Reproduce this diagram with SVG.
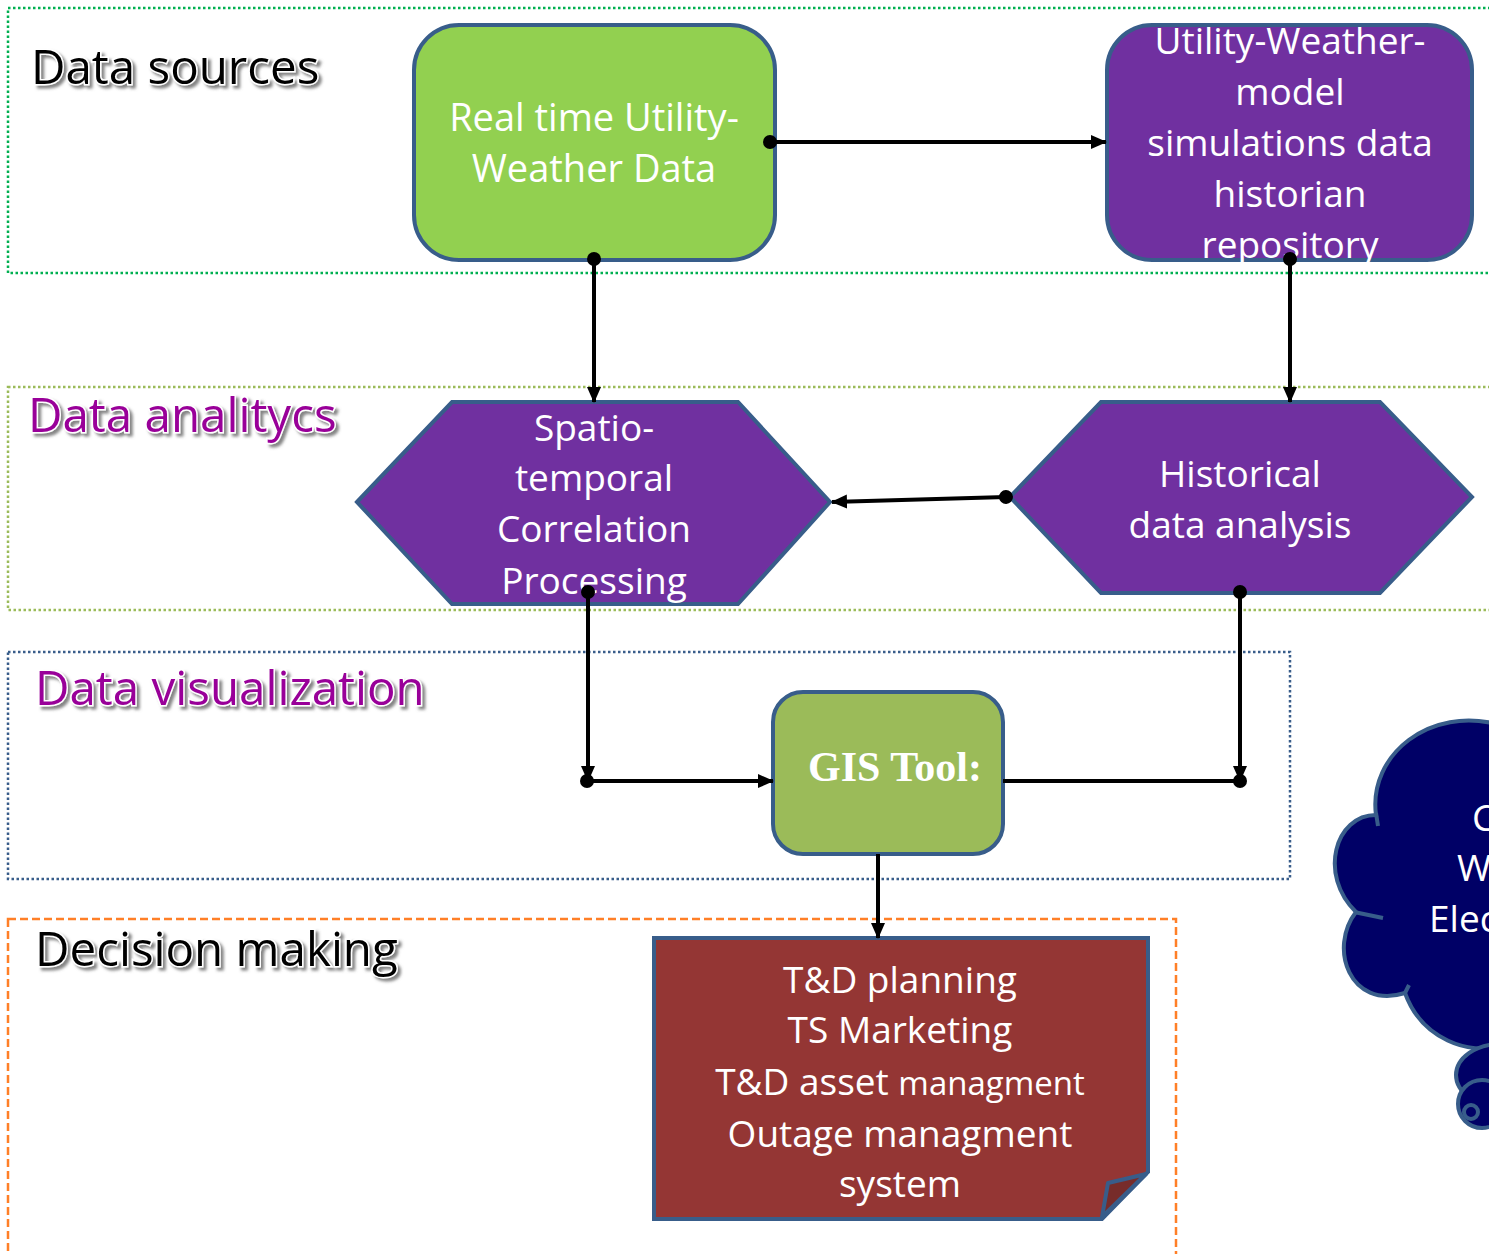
<svg xmlns="http://www.w3.org/2000/svg" width="1489" height="1254" viewBox="0 0 1489 1254">
  <defs>
    <style>
      .zone { fill: none; stroke-width: 2.5; }
      .dots { stroke-dasharray: 2.5 2.5; }
      .title { font-family: "Open Sans", "Noto Sans", sans-serif; font-size: 47.5px; stroke: #fff; stroke-width: 3; paint-order: stroke; filter: url(#shadow); }
      .node { stroke: #385D8A; stroke-width: 4; }
      .label { font-family: "Open Sans", "Noto Sans", sans-serif; font-size: 37px; fill: #fff; text-anchor: middle; }
      .wire { fill: none; stroke: #000; stroke-width: 4; }
    </style>
    <filter id="shadow" x="-10%" y="-30%" width="130%" height="170%">
      <feDropShadow dx="3" dy="3" stdDeviation="1.5" flood-color="#666" flood-opacity="0.8"/>
    </filter>
    <marker id="arrow" markerUnits="userSpaceOnUse" markerWidth="16" markerHeight="16" refX="15" refY="8" orient="auto">
      <path d="M0,1 L16,8 L0,15 Z" fill="#000"/>
    </marker>
    <marker id="dot" markerUnits="userSpaceOnUse" markerWidth="16" markerHeight="16" refX="8" refY="8" orient="auto">
      <circle cx="8" cy="8" r="7" fill="#000"/>
    </marker>
  </defs>

  <rect width="1489" height="1254" fill="#fff"/>

  <!-- swim-lane frames -->
  <g id="zones">
    <rect class="zone dots" x="8" y="8" width="1500" height="265" stroke="#00B050"/>
    <rect class="zone dots" x="8" y="387" width="1500" height="223" stroke="#9BBB59"/>
    <rect class="zone dots" x="8" y="652" width="1282" height="227" stroke="#385D8A"/>
    <rect class="zone" x="8" y="919" width="1168" height="360" stroke="#FF7F27" stroke-dasharray="8 4"/>
  </g>

  <g id="titles">
    <text class="title" x="31" y="84" fill="#000">Data sources</text>
    <text class="title" x="28" y="432" fill="#990099">Data analitycs</text>
    <text class="title" x="35" y="705" fill="#990099">Data visualization</text>
    <text class="title" x="35" y="966" fill="#000">Decision making</text>
  </g>

  <g id="realtime-data">
    <rect class="node" x="414" y="25" width="361" height="235" rx="45" fill="#92D050"/>
    <text class="label" x="594" y="131" style="font-size:38px">Real time Utility-</text>
    <text class="label" x="594" y="182" style="font-size:38px">Weather Data</text>
  </g>

  <g id="historian-repository">
    <rect class="node" x="1107" y="25" width="365" height="235" rx="45" fill="#7030A0"/>
    <text class="label" x="1290" y="54">Utility-Weather-</text>
    <text class="label" x="1290" y="105">model</text>
    <text class="label" x="1290" y="156">simulations data</text>
    <text class="label" x="1290" y="207">historian</text>
    <text class="label" x="1290" y="258">repository</text>
  </g>

  <g id="spatio-temporal">
    <polygon class="node" points="357,502 452,402 738,402 830,502 738,604 452,604" fill="#7030A0"/>
    <text class="label" x="594" y="441">Spatio-</text>
    <text class="label" x="594" y="491">temporal</text>
    <text class="label" x="594" y="542">Correlation</text>
    <text class="label" x="594" y="594">Processing</text>
  </g>

  <g id="historical-analysis">
    <polygon class="node" points="1010,497 1101,402 1380,402 1472,497 1380,593 1101,593" fill="#7030A0"/>
    <text class="label" x="1240" y="487">Historical</text>
    <text class="label" x="1240" y="538">data analysis</text>
  </g>

  <g id="gis-tool">
    <rect class="node" x="773" y="692" width="230" height="162" rx="30" fill="#9BBB59"/>
    <text x="895" y="781" font-family="'Liberation Serif', serif" font-weight="bold" font-size="42" fill="#fff" text-anchor="middle">GIS Tool:</text>
  </g>

  <g id="decision-outputs">
    <path class="node" d="M654,938 H1148 V1172 L1102,1219 H654 Z" fill="#943634" stroke-width="5"/>
    <path d="M1146,1174 L1108,1183 L1102,1217 Z" fill="#772C2A" stroke="#385D8A" stroke-width="4" stroke-linejoin="round"/>
    <text class="label" x="900" y="993">T&amp;D planning</text>
    <text class="label" x="900" y="1043">TS Marketing</text>
    <text class="label" x="900" y="1095">T&amp;D asset <tspan style="font-size:33px">managment</tspan></text>
    <text class="label" x="900" y="1147">Outage managment</text>
    <text class="label" x="900" y="1197">system</text>
  </g>

  <g id="cloud">
    <path d="M1500,725 C1430,705 1368,755 1376,815 C1335,815 1318,875 1356,912 C1328,948 1350,1010 1405,993 C1422,1040 1470,1055 1500,1046 Z" fill="#000066" stroke="#385D8A" stroke-width="4"/>
    <path d="M1376,813 L1378,826 M1354,912 L1383,918 M1405,993 L1409,985" fill="none" stroke="#385D8A" stroke-width="4"/>
    <ellipse cx="1500" cy="1075" rx="44" ry="31" fill="#000066" stroke="#385D8A" stroke-width="4"/>
    <circle cx="1482" cy="1104" r="24" fill="#000066" stroke="#385D8A" stroke-width="4"/>
    <circle cx="1471" cy="1112" r="7" fill="#000066" stroke="#385D8A" stroke-width="4"/>
    <text class="label" x="1472" y="831" style="text-anchor:start">C</text>
    <text class="label" x="1457" y="881" style="text-anchor:start">W</text>
    <text class="label" x="1429" y="932" style="text-anchor:start">Elec</text>
  </g>

  <!-- connectors -->
  <g id="connectors">
    <line class="wire" x1="770" y1="142" x2="1106" y2="142" marker-start="url(#dot)" marker-end="url(#arrow)"/>
    <line class="wire" x1="594" y1="259" x2="594" y2="402" marker-start="url(#dot)" marker-end="url(#arrow)"/>
    <line class="wire" x1="1290" y1="259" x2="1290" y2="402" marker-start="url(#dot)" marker-end="url(#arrow)"/>
    <line class="wire" x1="1006" y1="497" x2="832" y2="502" marker-start="url(#dot)" marker-end="url(#arrow)"/>
    <line class="wire" x1="588" y1="592" x2="588" y2="781" marker-start="url(#dot)" marker-end="url(#arrow)"/>
    <line class="wire" x1="587" y1="781" x2="773" y2="781" marker-start="url(#dot)" marker-end="url(#arrow)"/>
    <line class="wire" x1="1240" y1="592" x2="1240" y2="781" marker-start="url(#dot)" marker-end="url(#arrow)"/>
    <line class="wire" x1="1003" y1="781" x2="1240" y2="781" marker-end="url(#dot)"/>
    <line class="wire" x1="878" y1="854" x2="878" y2="938" marker-end="url(#arrow)"/>
  </g>
</svg>
